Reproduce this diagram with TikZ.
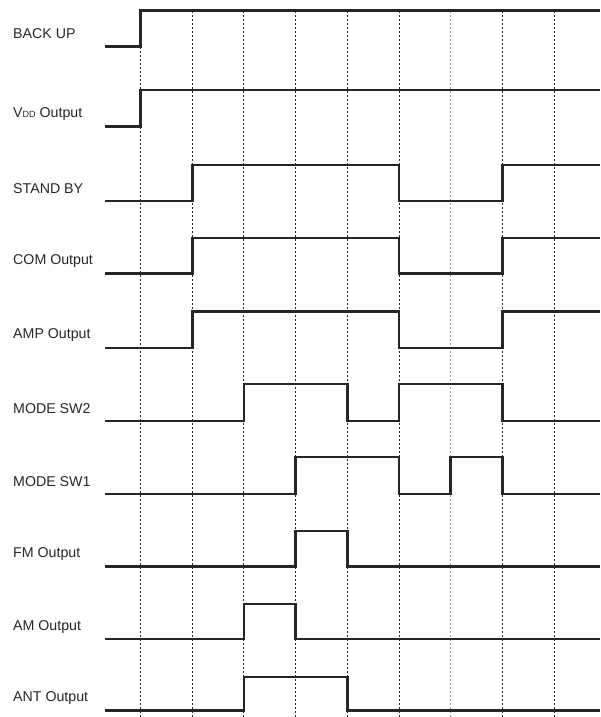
\documentclass[tikz,border=0pt]{standalone}
\usepackage{fontspec}
\setmainfont{Liberation Sans}
\begin{document}
\begin{tikzpicture}[x=1pt,y=-1pt,
  sig/.style={line width=2.7pt,line join=miter,line cap=butt,black!85},
  gridl/.style={line width=1pt,dash pattern=on 2.4pt off 1.6pt,black!85},
  gridg/.style={line width=1pt,dash pattern=on 2.4pt off 1.6pt,black!40},
  lab/.style={anchor=west,inner sep=0pt,font=\fontsize{14.2}{16}\selectfont,text=black!85}]
\useasboundingbox (0,0) rectangle (600,717);
% grid x positions
\foreach \i/\st in {0/gridl,1/gridl,2/gridl,3/gridl,4/gridl,5/gridl,6/gridg,7/gridl,8/gridl}{
  \pgfmathsetmacro{\gx}{140.5+51.7*\i}
  \coordinate (gt\i) at (\gx,11);
  \coordinate (gb\i) at (\gx,717);
  \draw[\st] (gt\i) -- (gb\i);
}
\def\gx#1{\fpeval{140.5+51.7*#1}}
% labels
\node[lab] (l1) at (13,34) {BACK UP};
\node[lab] (l2) at (13,114) {V{\fontsize{9}{10}\selectfont\raisebox{-0.5pt}{DD}} Output};
\node[lab] (l3) at (13,189) {STAND BY};
\node[lab] (l4) at (13,261.5) {COM Output};
\node[lab] (l5) at (13,335) {AMP Output};
\node[lab] (l6) at (13,408.5) {MODE SW2};
\node[lab] (l7) at (13,481.5) {MODE SW1};
\node[lab] (l8) at (13,554.5) {FM Output};
\node[lab] (l9) at (13,627) {AM Output};
\node[lab] (l10) at (13,698.5) {ANT Output};
% signals
% BACK UP
\draw[sig] (105,46.5) -| (\gx{0},10.5) -- (600,10.5);
% VDD
\draw[sig] (105,126.5) -| (\gx{0},90) -- (600,90);
% STAND BY, COM, AMP
\foreach \lo/\hi in {201/165,273.5/238,348/311.5}{
  \draw[sig] (105,\lo) -| (\gx{1},\hi) -| (\gx{5},\lo) -| (\gx{7},\hi) -- (600,\hi);
}
% MODE SW2
\draw[sig] (105,421) -| (\gx{2},384) -| (\gx{4},421) -| (\gx{5},384) -| (\gx{7},421) -- (600,421);
% MODE SW1
\draw[sig] (105,494) -| (\gx{3},457) -| (\gx{5},494) -| (\gx{6},457) -| (\gx{7},494) -- (600,494);
% FM
\draw[sig] (105,566.5) -| (\gx{3},531) -| (\gx{4},566.5) -- (600,566.5);
% AM
\draw[sig] (105,639) -| (\gx{2},604) -| (\gx{3},639) -- (600,639);
% ANT
\draw[sig] (105,710.5) -| (\gx{2},677) -| (\gx{4},710.5) -- (600,710.5);
\end{tikzpicture}
\end{document}
